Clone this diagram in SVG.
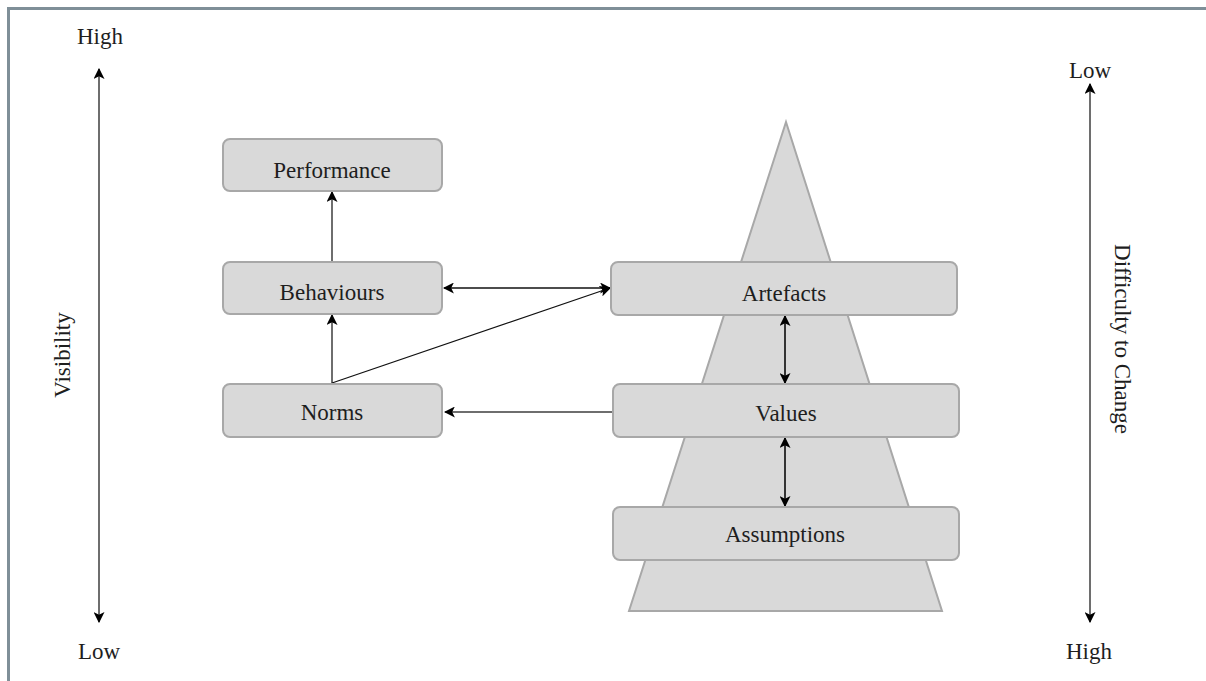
<svg xmlns="http://www.w3.org/2000/svg" width="1206" height="681" viewBox="0 0 1206 681">
<style>
.box{fill:#d9d9d9;stroke:#a8a8a8;stroke-width:2}
.lbl{font-family:"Liberation Serif","Times New Roman",serif;font-size:23px;fill:#1e1e1e;text-anchor:middle}
.gray{stroke:#6e6e6e;stroke-width:2;fill:none}
.thin{stroke:#111;stroke-width:1.3;fill:none}
.dark{stroke:#333;stroke-width:2;fill:none}
</style>
<defs>
<marker id="ah" viewBox="0 0 10 10" refX="9" refY="5" markerWidth="11" markerHeight="11" markerUnits="userSpaceOnUse" orient="auto-start-reverse">
<path d="M0,0 L10,5 L0,10 L2.5,5 Z" fill="#000"/>
</marker>
</defs>
<rect x="0" y="0" width="1206" height="681" fill="#fff"/>
<path d="M8.5,681 V8.5 H1206" fill="none" stroke="#7f8f98" stroke-width="3"/>
<g id="visibility-axis">
<line x1="99" y1="69" x2="99" y2="622" class="gray" marker-start="url(#ah)" marker-end="url(#ah)"/>
<text class="lbl" x="100" y="44">High</text>
<text class="lbl" x="99" y="659">Low</text>
<text class="lbl" transform="translate(70,355) rotate(-90)">Visibility</text>
</g>
<g id="difficulty-axis">
<line x1="1090" y1="84" x2="1090" y2="622" class="gray" marker-start="url(#ah)" marker-end="url(#ah)"/>
<text class="lbl" x="1090" y="78">Low</text>
<text class="lbl" x="1089" y="659">High</text>
<text class="lbl" transform="translate(1115,339) rotate(90)">Difficulty to Change</text>
</g>
<g id="pyramid">
<polygon points="786,122 942,611 629,611" fill="#d9d9d9" stroke="#a8a8a8" stroke-width="2"/>
</g>
<g id="connectors">
<line x1="332" y1="262" x2="332" y2="192" class="gray" marker-end="url(#ah)"/>
<line x1="332" y1="384" x2="332" y2="315" class="gray" marker-end="url(#ah)"/>
<line x1="444" y1="288" x2="610" y2="288" class="thin" marker-start="url(#ah)" marker-end="url(#ah)"/>
<line x1="332" y1="383" x2="610" y2="288" class="thin" marker-end="url(#ah)"/>
<line x1="612" y1="412" x2="445" y2="412" class="gray" marker-end="url(#ah)"/>
<line x1="785" y1="316" x2="785" y2="383" class="dark" marker-start="url(#ah)" marker-end="url(#ah)"/>
<line x1="785" y1="438" x2="785" y2="506" class="dark" marker-start="url(#ah)" marker-end="url(#ah)"/>
</g>
<g id="performance">
<rect class="box" x="223" y="139" width="219" height="52" rx="7"/>
<text class="lbl" x="332" y="178">Performance</text>
</g>
<g id="behaviours">
<rect class="box" x="223" y="262" width="219" height="52" rx="7"/>
<text class="lbl" x="332" y="300">Behaviours</text>
</g>
<g id="norms">
<rect class="box" x="223" y="384" width="219" height="53" rx="7"/>
<text class="lbl" x="332" y="420">Norms</text>
</g>
<g id="artefacts">
<rect class="box" x="611" y="262" width="346" height="53" rx="7"/>
<text class="lbl" x="784" y="301">Artefacts</text>
</g>
<g id="values">
<rect class="box" x="613" y="384" width="346" height="53" rx="7"/>
<text class="lbl" x="786" y="421">Values</text>
</g>
<g id="assumptions">
<rect class="box" x="613" y="507" width="346" height="53" rx="7"/>
<text class="lbl" x="785" y="542">Assumptions</text>
</g>
</svg>
